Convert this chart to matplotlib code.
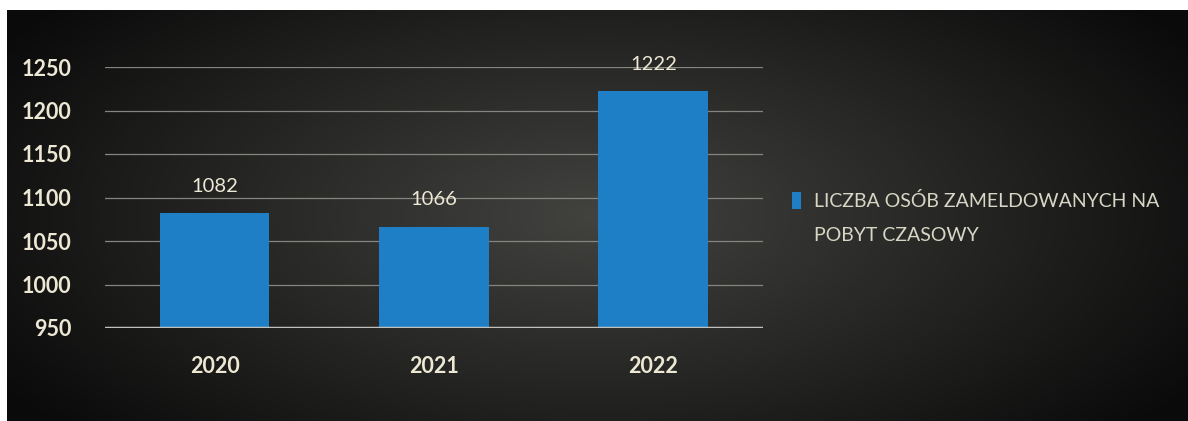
import numpy as np
import matplotlib.pyplot as plt

plt.rcParams['font.family'] = ['Lato', 'DejaVu Sans']

# dane
lata = ['2020', '2021', '2022']
wartosci = [1082, 1066, 1222]
etykieta = ['LICZBA OSÓB ZAMELDOWANYCH NA', 'POBYT CZASOWY']
yticks = [950, 1000, 1050, 1100, 1150, 1200, 1250]

fig = plt.figure(figsize=(11.88, 4.21), dpi=100)
fig.patch.set_facecolor('white')

# tlo z gradientem (ciemny panel)
bg = fig.add_axes([7/1188, 0, 1 - 7/1188, 411/421])
bg.axis('off')
gx, gy = np.meshgrid(np.linspace(0, 1, 400), np.linspace(0, 1, 150))
r = np.sqrt(((gx - 0.5) / 0.6) ** 2 + ((gy - 0.5) / 0.8) ** 2)
v = np.clip(1 - r, 0, 1)
lo = np.array([0.04, 0.04, 0.04])
hi = np.array([0.26, 0.26, 0.25])
img = lo + (hi - lo) * v[..., None]
bg.imshow(img, aspect='auto', extent=[0, 1, 0, 1])

ax = fig.add_axes([105/1188, 93/421, 658/1188, 261/421])
ax.set_facecolor('none')
x = np.arange(len(lata))
bars = ax.bar(x, wartosci, width=0.5, color='#1f7fc6', zorder=3, label=etykieta[0])
ax.set_ylim(950, 1250)
ax.set_xlim(-0.5, 2.5)
ax.set_yticks(yticks)
ax.yaxis.grid(True, color='#85857f', linewidth=0.9, zorder=0)
ax.axhline(950, color='#c0c0bc', linewidth=2.5, zorder=4)
for s in ax.spines.values():
    s.set_visible(False)
ax.tick_params(length=0, colors='#ece8d4', labelsize=15.5)
ax.tick_params(axis='y', pad=24)
ax.tick_params(axis='x', pad=20)
ax.set_xticks(x)
ax.set_xticklabels(lata, fontweight='bold')
for t in ax.get_yticklabels():
    t.set_fontweight('bold')

for xi, val in zip(x, wartosci):
    ax.annotate(str(val), (xi, val), xytext=(0, 19.5), textcoords='offset points',
                ha='center', va='center', color='#ece8d4', fontsize=14.5)

# legenda: pierwsza linia w legendzie, druga dopisana pod nia
leg = fig.legend(loc='center left', bbox_to_anchor=(792/1188, 1 - 201/421),
                 frameon=False, borderpad=0, borderaxespad=0,
                 handlelength=0.45, handleheight=1.0, handletextpad=0.7,
                 fontsize=14, labelcolor='#d8d6c4')
fig.canvas.draw()
tb = leg.get_texts()[0].get_window_extent()
fig.text(tb.x0 / fig.bbox.width, (tb.y0 - 34) / fig.bbox.height, etykieta[1],
         ha='left', va='bottom', fontsize=14, color='#d8d6c4')

fig.savefig('out.png', dpi=100)
